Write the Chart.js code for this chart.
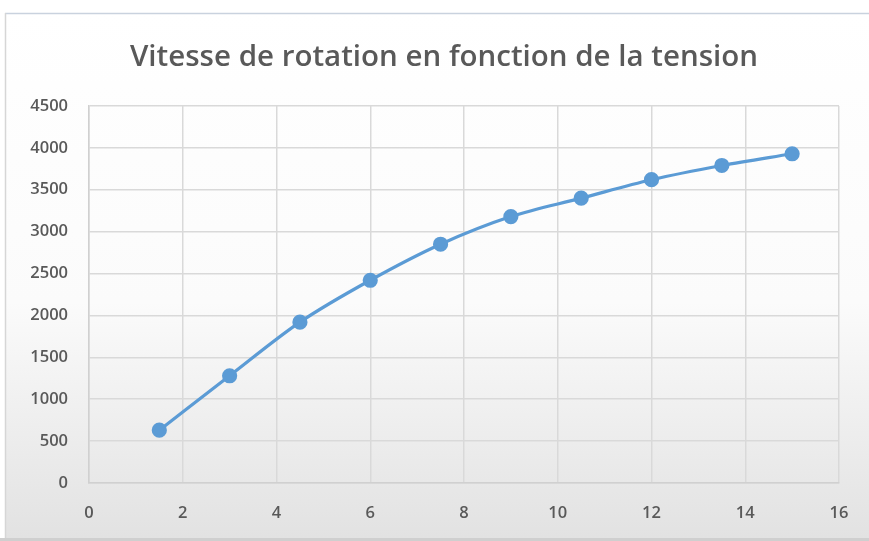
<!DOCTYPE html>
<html>
<head>
<meta charset="utf-8">
<script src="https://cdn.jsdelivr.net/npm/chart.js@4/dist/chart.umd.min.js"></script>
<style>
  html, body { margin: 0; padding: 0; background: #ffffff; }
  #wrap { position: relative; width: 869px; height: 541px; }
  canvas { display: block; }
</style>
</head>
<body>
<div id="wrap"><canvas id="c" width="869" height="541"></canvas></div>
<script>
const chartTitle = "Vitesse de rotation en fonction de la tension";
const tension = [1.5, 3, 4.5, 6, 7.5, 9, 10.5, 12, 13.5, 15];
const vitesse = [630, 1280, 1920, 2420, 2850, 3180, 3400, 3620, 3790, 3930];
const xTicks = [0, 2, 4, 6, 8, 10, 12, 14, 16];
const yTicks = [0, 500, 1000, 1500, 2000, 2500, 3000, 3500, 4000, 4500];

const points = tension.map((t, i) => ({ x: t, y: vitesse[i] }));

const framePlugin = {
  id: 'frame',
  afterLayout(chart) {
    const tb = chart.titleBlock;
    if (tb) {
      tb.left = 49;
      tb.right = 839;
      tb.width = tb.right - tb.left;
    }
  },
  beforeDraw(chart) {
    const ctx = chart.ctx;
    const W = chart.width, H = chart.height;
    ctx.save();
    ctx.fillStyle = '#ffffff';
    ctx.fillRect(0, 0, W, H);
    const g = ctx.createLinearGradient(0, 13, 0, 538);
    g.addColorStop(0, '#ffffff');
    g.addColorStop(0.55, '#fbfbfb');
    g.addColorStop(1, '#e2e2e2');
    ctx.fillStyle = g;
    ctx.fillRect(5, 13, W - 5, 525);
    ctx.strokeStyle = '#c9d2de';
    ctx.lineWidth = 1.5;
    ctx.beginPath();
    ctx.moveTo(5, 13.5); ctx.lineTo(W, 13.5);
    ctx.stroke();
    ctx.strokeStyle = '#d6d6d6';
    ctx.beginPath();
    ctx.moveTo(5.5, 13); ctx.lineTo(5.5, 538);
    ctx.stroke();
    ctx.fillStyle = '#cfcfcf';
    ctx.fillRect(0, 538, W, 3);
    ctx.restore();
  }
};

const tickFont = { family: "'Open Sans', sans-serif", size: 16.5, weight: '600', lineHeight: 1.2 };

new Chart(document.getElementById('c'), {
  type: 'scatter',
  data: {
    datasets: [{
      data: points,
      showLine: true,
      borderColor: '#5b9bd5',
      backgroundColor: '#5b9bd5',
      borderWidth: 3.2,
      pointRadius: 6,
      pointHoverRadius: 6,
      cubicInterpolationMode: 'monotone'
    }]
  },
  options: {
    responsive: false,
    animation: false,
    devicePixelRatio: 1,
    layout: { padding: { left: 0, right: 30, top: 0, bottom: 0 } },
    plugins: {
      legend: { display: false },
      tooltip: { enabled: false },
      title: {
        display: true,
        text: chartTitle,
        color: '#595959',
        font: { family: "'Open Sans', sans-serif", size: 29.5, weight: '600', lineHeight: 1.2 },
        padding: { top: 40, bottom: 30.6 }
      }
    },
    scales: {
      x: {
        type: 'linear',
        min: 0, max: 16,
        afterBuildTicks(scale) { scale.ticks = xTicks.map(v => ({ value: v })); },
        afterFit(scale) { scale.height = 58; },
        ticks: {
          color: '#595959',
          font: tickFont,
          padding: 20,
          callback: v => String(v)
        },
        grid: { color: '#d9d9d9', lineWidth: 1.5, drawTicks: false },
        border: { display: true, color: '#d0d0d0', width: 1.5 }
      },
      y: {
        type: 'linear',
        min: 0, max: 4500,
        afterBuildTicks(scale) { scale.ticks = yTicks.map(v => ({ value: v })); },
        afterFit(scale) { scale.width = 89; },
        ticks: {
          color: '#595959',
          font: tickFont,
          padding: 21,
          callback: v => String(v)
        },
        grid: { color: '#d9d9d9', lineWidth: 1.5, drawTicks: false },
        border: { display: true, color: '#d0d0d0', width: 1.5 }
      }
    }
  },
  plugins: [framePlugin]
});
</script>
</body>
</html>
